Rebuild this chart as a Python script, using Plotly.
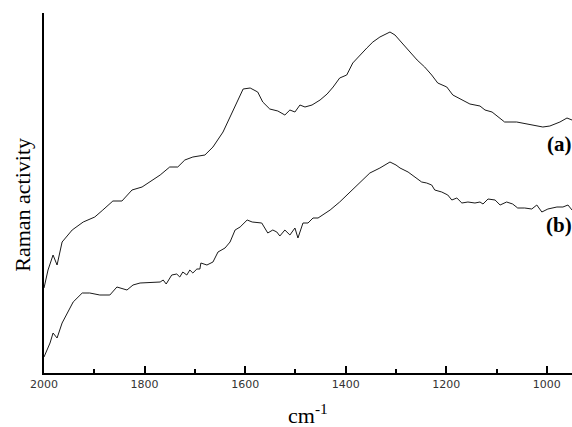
import plotly.graph_objects as go

# Wavenumber (cm^-1) and relative Raman intensity
wn_a = [2000, 1992, 1982, 1974, 1964, 1944, 1922, 1899, 1883, 1863, 1845, 1825, 1805, 1789,
        1769, 1750, 1734, 1720, 1704, 1680, 1664, 1644, 1630, 1616, 1604, 1590, 1575, 1565,
        1551, 1535, 1521, 1511, 1501, 1491, 1481, 1467, 1451, 1437, 1425, 1412, 1398, 1386,
        1372, 1358, 1346, 1332, 1312, 1302, 1288, 1272, 1258, 1243, 1229, 1217, 1199, 1187,
        1169, 1153, 1133, 1123, 1109, 1097, 1084, 1060, 1040, 1020, 1008, 994, 974, 960, 950]
int_a = [85, 103, 118, 108, 131, 143, 151, 156, 163, 172, 172, 183, 186, 191,
         198, 206, 206, 213, 216, 218, 226, 241, 256, 271, 284, 285, 281, 271,
         264, 262, 258, 263, 261, 268, 266, 268, 273, 279, 286, 295, 298, 310,
         318, 325, 331, 336, 341, 338, 330, 321, 313, 306, 298, 290, 286, 278,
         273, 269, 267, 263, 261, 256, 251, 251, 249, 247, 246, 247, 251, 255, 253]

wn_b = [2000, 1988, 1982, 1974, 1964, 1954, 1942, 1924, 1909, 1889, 1869, 1855, 1835, 1823,
        1809, 1769, 1763, 1757, 1746, 1736, 1730, 1724, 1716, 1710, 1704, 1696, 1690, 1688,
        1676, 1664, 1654, 1640, 1630, 1620, 1610, 1596, 1586, 1567, 1555, 1545, 1537, 1531,
        1521, 1511, 1501, 1495, 1485, 1475, 1465, 1455, 1431, 1412, 1392, 1372, 1352, 1332,
        1312, 1300, 1292, 1276, 1262, 1249, 1239, 1229, 1223, 1209, 1197, 1189, 1179, 1169,
        1157, 1143, 1133, 1127, 1117, 1103, 1093, 1080, 1068, 1058, 1044, 1030, 1020, 1010,
        998, 980, 968, 958, 950]
int_b = [16, 30, 40, 35, 50, 60, 71, 80, 80, 78, 78, 86, 83, 88,
         90, 91, 93, 89, 98, 99, 96, 101, 98, 103, 100, 104, 104, 110,
         108, 111, 121, 125, 131, 143, 146, 153, 151, 150, 140, 143, 141, 137,
         143, 138, 145, 135, 150, 150, 155, 155, 163, 171, 181, 190, 200, 205,
         211, 208, 205, 201, 196, 191, 190, 188, 183, 181, 178, 173, 175, 170,
         171, 170, 171, 169, 174, 173, 168, 171, 169, 165, 165, 164, 168, 161,
         164, 166, 166, 168, 163]

x_ticks = [2000, 1800, 1600, 1400, 1200, 1000]
x_tick_text = ["2000", "1800", "1600", "1400", "1200", "1000"]

fig = go.Figure()
for wn, inten in ((wn_a, int_a), (wn_b, int_b)):
    fig.add_trace(go.Scatter(x=wn, y=inten, mode="lines",
                             line=dict(color="#1a1a1a", width=1), showlegend=False,
                             hoverinfo="skip"))

fig.update_layout(
    width=572, height=427,
    margin=dict(l=44, r=0, t=13, b=54),
    paper_bgcolor="white", plot_bgcolor="white",
    xaxis=dict(range=[2000, 950], tickvals=x_ticks, ticktext=x_tick_text,
               showgrid=False, zeroline=False, showline=True, linecolor="black",
               linewidth=2, ticks="inside", ticklen=7, tickwidth=2, tickcolor="black",
               tickfont=dict(family="DejaVu Sans", size=11, color="#333"),
               minor=dict(ticks="inside", ticklen=4, tickwidth=2, tickcolor="black",
                          dtick=100, showgrid=False)),
    yaxis=dict(range=[0, 360], showgrid=False, zeroline=False, showline=True,
               linecolor="black", linewidth=2, showticklabels=False, ticks=""),
    annotations=[
        dict(text="cm<sup>-1</sup>", xref="paper", yref="paper", x=0.5, y=-0.115,
             showarrow=False, xanchor="center", yanchor="middle",
             font=dict(family="Liberation Serif", size=22, color="black")),
        dict(text="Raman activity", xref="paper", yref="paper", x=-0.04, y=0.467,
             showarrow=False, xanchor="center", yanchor="middle", textangle=-90,
             font=dict(family="Liberation Serif", size=22, color="black")),
        dict(text="<b>(a)</b>", xref="paper", yref="paper", x=1.0, y=0.636,
             showarrow=False, xanchor="right", yanchor="middle", xshift=2,
             font=dict(family="Liberation Serif", size=21, color="black")),
        dict(text="<b>(b)</b>", xref="paper", yref="paper", x=1.0, y=0.411,
             showarrow=False, xanchor="right", yanchor="middle", xshift=2,
             font=dict(family="Liberation Serif", size=21, color="black")),
    ],
)

fig.write_html("out.html", config={"displayModeBar": False},
               post_script="document.body.style.margin='0';")
